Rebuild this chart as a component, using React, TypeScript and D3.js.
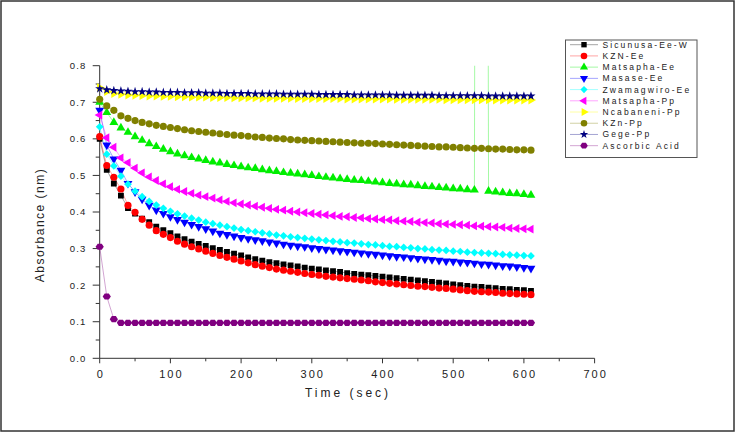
import React from 'react';
import * as d3 from 'd3';

const times = [0, 10, 20, 30, 40, 50, 60, 70, 80, 90, 100, 110, 120, 130, 140, 150, 160, 170, 180, 190,
  200, 210, 220, 230, 240, 250, 260, 270, 280, 290, 300, 310, 320, 330, 340, 350, 360, 370, 380, 390,
  400, 410, 420, 430, 440, 450, 460, 470, 480, 490, 500, 510, 520, 530, 540, 550, 560, 570, 580, 590, 600, 610];

const sicunusaEeW = [0.600, 0.515, 0.478, 0.445, 0.411, 0.396, 0.382, 0.372, 0.360, 0.350,
  0.342, 0.333, 0.326, 0.319, 0.313, 0.307, 0.301, 0.296, 0.291, 0.286,
  0.281, 0.276, 0.271, 0.267, 0.263, 0.260, 0.257, 0.254, 0.251, 0.248,
  0.245, 0.243, 0.240, 0.238, 0.236, 0.233, 0.231, 0.229, 0.227, 0.225,
  0.223, 0.221, 0.219, 0.217, 0.215, 0.213, 0.211, 0.209, 0.207, 0.205,
  0.202, 0.200, 0.198, 0.196, 0.195, 0.193, 0.192, 0.190, 0.189, 0.187,
  0.186, 0.184];

const kznEe = [0.606, 0.527, 0.495, 0.463, 0.418, 0.399, 0.380, 0.364, 0.349, 0.339,
  0.330, 0.320, 0.312, 0.305, 0.299, 0.293, 0.287, 0.281, 0.276, 0.271,
  0.266, 0.261, 0.256, 0.252, 0.248, 0.244, 0.241, 0.238, 0.235, 0.232,
  0.229, 0.227, 0.224, 0.222, 0.220, 0.218, 0.216, 0.214, 0.212, 0.209,
  0.207, 0.205, 0.203, 0.201, 0.199, 0.197, 0.196, 0.194, 0.192, 0.191,
  0.189, 0.187, 0.185, 0.183, 0.182, 0.181, 0.180, 0.178, 0.177, 0.176,
  0.175, 0.174];

const matsaphaEe = [0.700, 0.672, 0.645, 0.630, 0.618, 0.606, 0.596, 0.587, 0.579, 0.572,
  0.565, 0.559, 0.554, 0.549, 0.545, 0.541, 0.537, 0.534, 0.530, 0.527,
  0.524, 0.521, 0.519, 0.516, 0.513, 0.511, 0.508, 0.506, 0.504, 0.502,
  0.500, 0.497, 0.495, 0.493, 0.491, 0.489, 0.487, 0.486, 0.484, 0.482,
  0.480, 0.478, 0.477, 0.475, 0.474, 0.472, 0.470, 0.469, 0.467, 0.466,
  0.464, 0.463, 0.461, 0.460, 9.5, 0.457, 0.455, 0.453, 0.451, 0.450,
  0.448, 0.446];

const masaseEe = [0.678, 0.583, 0.545, 0.514, 0.478, 0.455, 0.435, 0.418, 0.405, 0.396,
  0.387, 0.379, 0.372, 0.366, 0.360, 0.354, 0.348, 0.342, 0.338, 0.334,
  0.330, 0.327, 0.324, 0.321, 0.318, 0.315, 0.312, 0.309, 0.307, 0.305,
  0.302, 0.300, 0.298, 0.296, 0.294, 0.292, 0.290, 0.288, 0.286, 0.284,
  0.282, 0.280, 0.278, 0.277, 0.275, 0.273, 0.271, 0.270, 0.268, 0.266,
  0.265, 0.263, 0.262, 0.260, 0.258, 0.257, 0.255, 0.253, 0.252, 0.250,
  0.248, 0.246];

const zwamagwiroEe = [0.633, 0.558, 0.526, 0.498, 0.476, 0.457, 0.442, 0.429, 0.419, 0.410,
  0.402, 0.395, 0.389, 0.383, 0.378, 0.372, 0.368, 0.364, 0.360, 0.356,
  0.352, 0.349, 0.346, 0.343, 0.340, 0.337, 0.335, 0.332, 0.330, 0.328,
  0.326, 0.324, 0.322, 0.320, 0.318, 0.316, 0.315, 0.313, 0.311, 0.310,
  0.308, 0.306, 0.305, 0.303, 0.302, 0.300, 0.299, 0.297, 0.296, 0.295,
  0.293, 0.292, 0.290, 0.289, 0.288, 0.287, 0.286, 0.284, 0.283, 0.282,
  0.281, 0.280];

const matsaphaPp = [0.665, 0.603, 0.577, 0.548, 0.535, 0.520, 0.507, 0.496, 0.486, 0.477,
  0.469, 0.462, 0.456, 0.451, 0.446, 0.442, 0.438, 0.433, 0.429, 0.425,
  0.422, 0.419, 0.416, 0.413, 0.410, 0.407, 0.405, 0.402, 0.400, 0.398,
  0.396, 0.394, 0.392, 0.390, 0.388, 0.387, 0.385, 0.384, 0.382, 0.381,
  0.379, 0.378, 0.376, 0.375, 0.374, 0.372, 0.371, 0.370, 0.368, 0.367,
  0.366, 0.365, 0.364, 0.362, 0.361, 0.360, 0.359, 0.358, 0.356, 0.355,
  0.354, 0.353];

const ncabaneniPp = [0.740, 0.729, 0.724, 0.722, 0.720, 0.719, 0.718, 0.717, 0.717, 0.716,
  0.716, 0.715, 0.715, 0.714, 0.714, 0.714, 0.713, 0.713, 0.713, 0.712,
  0.712, 0.712, 0.712, 0.711, 0.711, 0.711, 0.711, 0.711, 0.710, 0.710,
  0.710, 0.710, 0.710, 0.710, 0.710, 0.709, 0.709, 0.709, 0.709, 0.709,
  0.709, 0.709, 0.708, 0.708, 0.708, 0.708, 0.708, 0.708, 0.708, 0.707,
  0.707, 0.707, 0.707, 0.707, 0.707, 0.707, 0.706, 0.706, 0.706, 0.706,
  0.706, 0.706];

const kznPp = [0.708, 0.690, 0.678, 0.663, 0.656, 0.650, 0.645, 0.641, 0.637, 0.634,
  0.631, 0.628, 0.625, 0.622, 0.620, 0.618, 0.616, 0.614, 0.612, 0.610,
  0.609, 0.607, 0.605, 0.604, 0.602, 0.601, 0.600, 0.598, 0.597, 0.596,
  0.595, 0.594, 0.593, 0.592, 0.591, 0.590, 0.589, 0.588, 0.588, 0.587,
  0.586, 0.585, 0.584, 0.583, 0.582, 0.581, 0.580, 0.579, 0.578, 0.578,
  0.577, 0.576, 0.575, 0.574, 0.574, 0.573, 0.572, 0.572, 0.571, 0.570,
  0.570, 0.569];

const gegePp = [0.737, 0.734, 0.732, 0.731, 0.730, 0.729, 0.729, 0.728, 0.728, 0.727,
  0.727, 0.727, 0.726, 0.726, 0.726, 0.725, 0.725, 0.725, 0.724, 0.724,
  0.724, 0.724, 0.723, 0.723, 0.723, 0.723, 0.722, 0.722, 0.722, 0.722,
  0.722, 0.721, 0.721, 0.721, 0.721, 0.721, 0.720, 0.720, 0.720, 0.720,
  0.720, 0.720, 0.719, 0.719, 0.719, 0.719, 0.719, 0.719, 0.718, 0.718,
  0.718, 0.718, 0.718, 0.718, 0.718, 0.717, 0.717, 0.717, 0.717, 0.717,
  0.717, 0.717];

const ascorbicAcid = [0.305, 0.169, 0.107, 0.097, 0.097, 0.097, 0.097, 0.097, 0.097, 0.097,
  0.097, 0.097, 0.097, 0.097, 0.097, 0.097, 0.097, 0.097, 0.097, 0.097,
  0.097, 0.097, 0.097, 0.097, 0.097, 0.097, 0.097, 0.097, 0.097, 0.097,
  0.097, 0.097, 0.097, 0.097, 0.097, 0.097, 0.097, 0.097, 0.097, 0.097,
  0.097, 0.097, 0.097, 0.097, 0.097, 0.097, 0.097, 0.097, 0.097, 0.097,
  0.097, 0.097, 0.097, 0.097, 0.097, 0.097, 0.097, 0.097, 0.097, 0.097,
  0.097, 0.097];

const seriesNames = ['Sicunusa-Ee-W', 'KZN-Ee', 'Matsapha-Ee', 'Masase-Ee', 'Zwamagwiro-Ee',
  'Matsapha-Pp', 'Ncabaneni-Pp', 'KZn-Pp', 'Gege-Pp', 'Ascorbic Acid'];
const seriesValues = [sicunusaEeW, kznEe, matsaphaEe, masaseEe, zwamagwiroEe,
  matsaphaPp, ncabaneniPp, kznPp, gegePp, ascorbicAcid];

const yTickLabels = ['0.0', '0.1', '0.2', '0.3', '0.4', '0.5', '0.6', '0.7', '0.8'];
const xTickLabels = ['0', '100', '200', '300', '400', '500', '600', '700'];

const hexagon = {
  draw(ctx: any, size: number) {
    const r = Math.sqrt(size / (1.5 * Math.sqrt(3)));
    for (let i = 0; i < 6; i++) {
      const a = (Math.PI / 3) * i;
      const px = r * Math.cos(a) * 1.1;
      const py = r * Math.sin(a) * 0.95;
      if (i === 0) ctx.moveTo(px, py); else ctx.lineTo(px, py);
    }
    ctx.closePath();
  },
};

const styles = [
  { color: '#000000', type: d3.symbolSquare, size: 34, rot: 0 },
  { color: '#ff0000', type: d3.symbolCircle, size: 40, rot: 0 },
  { color: '#00ee00', type: d3.symbolTriangle, size: 34, rot: 0 },
  { color: '#0000ff', type: d3.symbolTriangle, size: 34, rot: 180 },
  { color: '#00ffff', type: d3.symbolSquare, size: 30, rot: 45 },
  { color: '#ff00ff', type: d3.symbolTriangle, size: 34, rot: -90 },
  { color: '#ffff00', type: d3.symbolTriangle, size: 34, rot: 90 },
  { color: '#808000', type: d3.symbolCircle, size: 40, rot: 0 },
  { color: '#000080', type: d3.symbolStar, size: 26, rot: 0 },
  { color: '#800080', type: hexagon, size: 36, rot: 0 },
];

const FONT = 'Liberation Sans, Arial, sans-serif';

export default function App() {
  const x = d3.scaleLinear().domain([0, 700]).range([99.7, 594.6]);
  const y = d3.scaleLinear().domain([0, 0.8]).range([358.3, 65.7]);
  const line = d3.line<number>().x((_, i) => x(times[i])).y((v) => y(v));

  const yMinor = [0.05, 0.15, 0.25, 0.35, 0.45, 0.55, 0.65, 0.75];
  const xMinor = [50, 150, 250, 350, 450, 550, 650];

  return (
    <div style={{ position: 'fixed', left: 0, top: 0 }}>
      <svg width={736} height={433} style={{ display: 'block', background: '#fff' }}>
        <defs>
          <clipPath id="plotclip">
            <rect x={x(0) - 6} y={y(0.8)} width={x(700) - x(0) + 12} height={y(0) - y(0.8) + 6} />
          </clipPath>
        </defs>
        <rect x={1} y={1} width={733} height={430} fill="#fff" stroke="#333" strokeWidth={1.5} />

        {/* axes */}
        <g stroke="#333" strokeWidth={1} fill="none">
          <line x1={x(0)} x2={x(0)} y1={y(0.8)} y2={y(0)} />
          <line x1={x(0)} x2={x(700)} y1={y(0)} y2={y(0)} />
          {yTickLabels.map((l) => (
            <line key={'yt' + l} x1={x(0) - 7} x2={x(0)} y1={y(parseFloat(l))} y2={y(parseFloat(l))} />
          ))}
          {yMinor.map((v) => (
            <line key={'ym' + v} x1={x(0) - 4} x2={x(0)} y1={y(v)} y2={y(v)} />
          ))}
          {xTickLabels.map((l) => (
            <line key={'xt' + l} x1={x(parseFloat(l))} x2={x(parseFloat(l))} y1={y(0)} y2={y(0) + 5} />
          ))}
          {xMinor.map((v) => (
            <line key={'xm' + v} x1={x(v)} x2={x(v)} y1={y(0)} y2={y(0) + 3} />
          ))}
        </g>
        <g fontFamily={FONT} fill="#222">
          {yTickLabels.map((l) => (
            <text key={'yl' + l} x={86.5} y={y(parseFloat(l)) + 3.4} fontSize={9.5} letterSpacing={1.2} textAnchor="end">{l}</text>
          ))}
          {xTickLabels.map((l) => (
            <text key={'xl' + l} x={x(parseFloat(l)) + 1} y={377.5} fontSize={11} letterSpacing={2} textAnchor="middle">{l}</text>
          ))}
          <text x={348} y={397} fontSize={12} letterSpacing={3} textAnchor="middle">Time (sec)</text>
          <text transform="translate(44,225) rotate(-90)" fontSize={12} letterSpacing={1.5} textAnchor="middle">Absorbance (nm)</text>
        </g>

        {/* series */}
        <g clipPath="url(#plotclip)">
          {seriesValues.map((vals, si) => (
            <path key={'l' + si} d={line(vals) || ''} fill="none" stroke={styles[si].color} strokeOpacity={0.45} strokeWidth={0.8} />
          ))}
          {seriesValues.map((vals, si) => {
            const st = styles[si];
            const p = d3.symbol().type(st.type as any).size(st.size)() || '';
            return (
              <g key={'m' + si} fill={st.color}>
                {vals.map((v, i) => (v <= 0.8 ? (
                  <path key={i} d={p} transform={`translate(${x(times[i])},${y(v)}) rotate(${st.rot})`} />
                ) : null))}
              </g>
            );
          })}
        </g>

        {/* legend */}
        <rect x={565.5} y={40} width={131.5} height={117.5} fill="#fff" stroke="#555" strokeWidth={1} />
        {seriesNames.map((name, i) => {
          const st = styles[i];
          const cy = 44.7 + i * 11.22;
          const p = d3.symbol().type(st.type as any).size(st.size * 0.85)() || '';
          return (
            <g key={'lg' + i}>
              <line x1={570} x2={598} y1={cy} y2={cy} stroke={st.color} strokeOpacity={0.45} strokeWidth={0.8} />
              <path d={p} fill={st.color} transform={`translate(584,${cy}) rotate(${st.rot})`} />
              <text x={602.5} y={cy + 3} fontFamily={FONT} fontSize={8.5} letterSpacing={2.1} fill="#222">{name}</text>
            </g>
          );
        })}
      </svg>
    </div>
  );
}
